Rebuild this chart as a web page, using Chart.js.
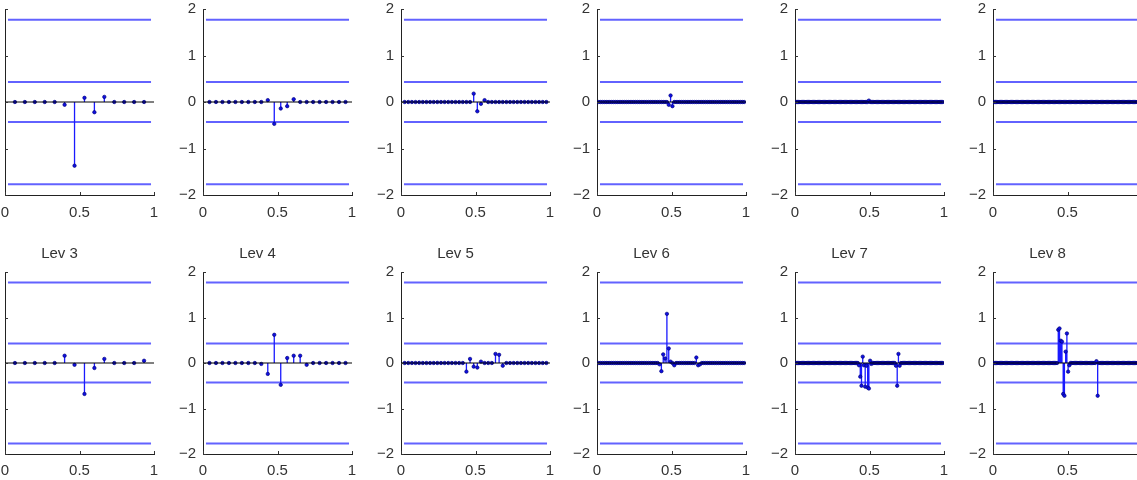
<!DOCTYPE html>
<html>
<head>
<meta charset="utf-8">
<script src="https://cdn.jsdelivr.net/npm/chart.js@4.4.1/dist/chart.umd.min.js"></script>
<style>
html, body { margin: 0; padding: 0; background: #fff; overflow: hidden; width: 1137px; height: 480px; position: relative; }
canvas { position: absolute; }
</style>
</head>
<body>
<script>
// titles of the lower row (upper row titles are cut off in the picture)
const levels = ['Lev 3', 'Lev 4', 'Lev 5', 'Lev 6', 'Lev 7', 'Lev 8'];
const xTicks = [0, 0.5, 1];
const yTicks = [-2, -1, 0, 1, 2];
const thresholds = [1.77, 0.43, -0.43, -1.77];

// upper row coefficients
const upper3 = [0, 0, 0, 0, 0, -0.06, -1.37, 0.09, -0.22, 0.11, 0, 0, 0, 0];
const upper4 = [0, 0, 0, 0, 0, 0, 0, 0, 0, 0.04, -0.47, -0.14, -0.09, 0.06, 0, 0, 0, 0, 0, 0, 0, 0];
const upper5 = [
  0, 0, 0, 0, 0, 0, 0, 0, 0, 0,
  0, 0, 0, 0, 0, 0, 0, 0, 0, 0.18,
  -0.20, -0.04, 0.04, 0, 0, 0, 0, 0, 0, 0,
  0, 0, 0, 0, 0, 0, 0, 0, 0, 0];
const upper6 = [
  0, 0, 0, 0, 0, 0, 0, 0, 0, 0, 0, 0, 0, 0, 0, 0, 0, 0, 0, 0,
  0, 0, 0, 0, 0, 0, 0, 0, 0, 0, 0, 0, 0, 0, 0, 0, 0, 0, -0.06, 0.14,
  -0.09, 0, 0, 0, 0, 0, 0, 0, 0, 0, 0, 0, 0, 0, 0, 0, 0, 0, 0, 0,
  0, 0, 0, 0, 0, 0, 0, 0, 0, 0, 0, 0, 0, 0, 0, 0, 0, 0, 0, 0];
const upper7 = [
  0, 0, 0, 0, 0, 0, 0, 0, 0, 0, 0, 0, 0, 0, 0, 0, 0, 0, 0, 0,
  0, 0, 0, 0, 0, 0, 0, 0, 0, 0, 0, 0, 0, 0, 0, 0, 0, 0, 0, 0,
  0, 0, 0, 0, 0, 0, 0, 0, 0, 0, 0, 0, 0, 0, 0, 0, 0, 0, 0, 0.03,
  0, 0, 0, 0, 0, 0, 0, 0, 0, 0, 0, 0, 0, 0, 0, 0, 0, 0, 0, 0,
  0, 0, 0, 0, 0, 0, 0, 0, 0, 0, 0, 0, 0, 0, 0, 0, 0, 0, 0, 0,
  0, 0, 0, 0, 0, 0, 0, 0, 0, 0, 0, 0, 0, 0, 0, 0, 0, 0, 0, 0];
const upper8 = [
  0, 0, 0, 0, 0, 0, 0, 0, 0, 0, 0, 0, 0, 0, 0, 0, 0, 0, 0, 0,
  0, 0, 0, 0, 0, 0, 0, 0, 0, 0, 0, 0, 0, 0, 0, 0, 0, 0, 0, 0,
  0, 0, 0, 0, 0, 0, 0, 0, 0, 0, 0, 0, 0, 0, 0, 0, 0, 0, 0, 0,
  0, 0, 0, 0, 0, 0, 0, 0, 0, 0, 0, 0, 0, 0, 0, 0, 0, 0, 0, 0,
  0, 0, 0, 0, 0, 0, 0, 0, 0, 0, 0, 0, 0, 0, 0, 0, 0, 0, 0, 0,
  0, 0, 0, 0, 0, 0, 0, 0, 0, 0, 0, 0, 0, 0, 0, 0, 0, 0, 0, 0];

// lower row coefficients (Lev 3 .. Lev 8)
const lower3 = [0, 0, 0, 0, 0, 0.16, -0.04, -0.68, -0.11, 0.09, 0, 0, 0, 0.05];
const lower4 = [0, 0, 0, 0, 0, 0, 0, 0, -0.02, -0.24, 0.62, -0.48, 0.11, 0.16, 0.16, -0.04, 0, 0, 0, 0, 0, 0];
const lower5 = [
  0, 0, 0, 0, 0, 0, 0, 0, 0, 0,
  0, 0, 0, 0, 0, 0, 0, -0.19, 0.09, -0.08,
  -0.10, 0.03, 0, 0, 0, 0.20, 0.18, -0.06, 0, 0,
  0, 0, 0, 0, 0, 0, 0, 0, 0, 0];
const lower6 = [
  0, 0, 0, 0, 0, 0, 0, 0, 0, 0, 0, 0, 0, 0, 0, 0, 0, 0, 0, 0,
  0, 0, 0, 0, 0, 0, 0, 0, 0, 0, 0, 0, 0, -0.03, -0.18, 0.19, 0.10, 1.08, 0.32, 0.03,
  0, -0.05, 0, 0, 0, 0, 0, 0, 0, 0, 0, 0, 0, 0.12, -0.05, -0.03, 0, 0, 0, 0,
  0, 0, 0, 0, 0, 0, 0, 0, 0, 0, 0, 0, 0, 0, 0, 0, 0, 0, 0, 0];
const lower7 = [
  0, 0, 0, 0, 0, 0, 0, 0, 0, 0, 0, 0, 0, 0, 0, 0, 0, 0, 0, 0,
  0, 0, 0, 0, 0, 0, 0, 0, 0, 0, 0, 0, 0, 0, 0, 0, 0, 0, 0, 0,
  0, 0, 0, 0, 0, 0, 0, 0, 0, 0, 0, -0.05, -0.30, -0.50, 0.14, -0.05, -0.52, -0.06, -0.54, -0.56,
  0.05, -0.02, 0, 0, 0, 0, 0, 0, 0, 0, 0, 0, 0, 0, 0, 0, 0, 0, 0, 0,
  0, -0.06, -0.50, 0.20, -0.06, 0, 0, 0, 0, 0, 0, 0, 0, 0, 0, 0, 0, 0, 0, 0,
  0, 0, 0, 0, 0, 0, 0, 0, 0, 0, 0, 0, 0, 0, 0, 0, 0, 0, 0, 0];
const lower8 = [
  0, 0, 0, 0, 0, 0, 0, 0, 0, 0, 0, 0, 0, 0, 0, 0, 0, 0, 0, 0,
  0, 0, 0, 0, 0, 0, 0, 0, 0, 0, 0, 0, 0, 0, 0, 0, 0, 0, 0, 0,
  0, 0, 0, 0, 0, 0, 0, 0, 0, 0, 0, 0, 0.73, 0.76, 0.49, 0.47, -0.68, -0.72, 0.25, 0.65,
  -0.19, -0.05, 0, 0, 0, 0, 0, 0, 0, 0, 0, 0, 0, 0, 0, 0, 0, 0, 0, 0,
  0, 0, 0, 0.04, -0.72, 0, 0, 0, 0, 0, 0, 0, 0, 0, 0, 0, 0, 0, 0, 0,
  0, 0, 0, 0, 0, 0, 0, 0, 0, 0, 0, 0, 0, 0, 0, 0, 0, 0, 0, 0];

const upperRow = [upper3, upper4, upper5, upper6, upper7, upper8];
const lowerRow = [lower3, lower4, lower5, lower6, lower7, lower8];

// layout of the 2 x 6 grid (plot area left edges)
const colLeft = [5, 203, 401, 597, 795, 993];
const plotW = 149, yAxisW = 40, padRight = 8;
const rows = [
  { data: upperRow, top: 0, padTop: 9, plotH: 186, xAxisH: 28, xPad: 9, titled: false },
  { data: lowerRow, top: 240, padTop: 5, plotH: 182, xAxisH: 26, xPad: 8, titled: true }
];

const font = { family: "'Liberation Sans', Arial, sans-serif", size: 15 };
const textColor = '#333';
const lineSpan = [0.02, 0.98];

// small inward tick marks, like the original figure
const innerTicks = {
  id: 'innerTicks',
  afterDraw(chart) {
    const { ctx, scales: { x, y } } = chart;
    ctx.save();
    ctx.strokeStyle = '#333';
    ctx.lineWidth = 1;
    ctx.beginPath();
    yTicks.forEach(v => {
      const py = Math.round(y.getPixelForValue(v)) + 0.5;
      ctx.moveTo(x.left, py); ctx.lineTo(x.left + 3, py);
    });
    xTicks.forEach(v => {
      const px = Math.round(x.getPixelForValue(v)) + 0.5;
      ctx.moveTo(px, y.bottom); ctx.lineTo(px, y.bottom - 3);
    });
    ctx.stroke();
    ctx.restore();
  }
};

function fmtY(v) {
  return v < 0 ? '\u2212' + Math.abs(v) : String(v);
}

function makePanel(vals, title, left, row) {
  const n = vals.length;
  const stems = [];
  const tips = [];
  vals.forEach((v, i) => {
    const x = (i + 1) / (n + 1);
    stems.push({ x, y: 0 }, { x, y: v }, { x, y: null });
    tips.push({ x, y: v });
  });

  const canvas = document.createElement('canvas');
  const w = yAxisW + plotW + padRight;
  const h = row.padTop + (row.titled ? 27 : 0) + row.plotH + row.xAxisH;
  canvas.width = w; canvas.height = h;
  canvas.style.left = (left - yAxisW) + 'px';
  canvas.style.top = row.top + 'px';
  canvas.style.width = w + 'px';
  canvas.style.height = h + 'px';
  document.body.appendChild(canvas);

  const datasets = [
    { data: [{ x: 0, y: 0 }, { x: 1, y: 0 }], borderColor: '#000', borderWidth: 1, pointRadius: 0, order: 0 },
    { data: tips, showLine: false, pointRadius: 1.7, pointBackgroundColor: '#1010e0', pointBorderColor: '#000080', pointBorderWidth: 0.7, order: 1 },
    { data: stems, borderColor: '#1a1aff', borderWidth: 1.3, pointRadius: 0, spanGaps: false, order: 2 }
  ];
  thresholds.forEach(t => {
    datasets.push({ data: [{ x: lineSpan[0], y: t }, { x: lineSpan[1], y: t }], borderColor: 'rgba(70,70,255,0.85)', borderWidth: 2, pointRadius: 0, order: 3 });
  });

  new Chart(canvas, {
    type: 'line',
    data: { datasets },
    options: {
      responsive: false,
      animation: false,
      layout: { autoPadding: false, padding: { left: 0, right: padRight, top: row.padTop, bottom: 0 } },
      plugins: {
        legend: { display: false },
        tooltip: { enabled: false },
        title: { display: !!title, text: title || '', color: textColor, font: { ...font, weight: 'normal' }, padding: { top: 0, bottom: 9 } }
      },
      scales: {
        x: {
          type: 'linear', min: 0, max: 1,
          afterBuildTicks: s => { s.ticks = xTicks.map(v => ({ value: v })); },
          afterFit: s => { s.height = row.xAxisH; s.paddingLeft = 0; s.paddingRight = 0; },
          grid: { display: true, drawOnChartArea: false, drawTicks: false },
          border: { display: true, color: '#222', width: 1 },
          ticks: { color: textColor, font, padding: row.xPad, maxRotation: 0, autoSkip: false, callback: v => String(v) }
        },
        y: {
          min: -2, max: 2,
          afterBuildTicks: s => { s.ticks = yTicks.map(v => ({ value: v })); },
          afterFit: s => { s.width = yAxisW; s.paddingTop = 0; s.paddingBottom = 0; },
          grid: { display: true, drawOnChartArea: false, drawTicks: false },
          border: { display: true, color: '#222', width: 1 },
          ticks: { color: textColor, font, padding: 7, autoSkip: false, callback: v => fmtY(v) }
        }
      }
    },
    plugins: [innerTicks]
  });
}

rows.forEach(row => {
  row.data.forEach((vals, c) => {
    makePanel(vals, row.titled ? levels[c] : null, colLeft[c], row);
  });
});
</script>
</body>
</html>
